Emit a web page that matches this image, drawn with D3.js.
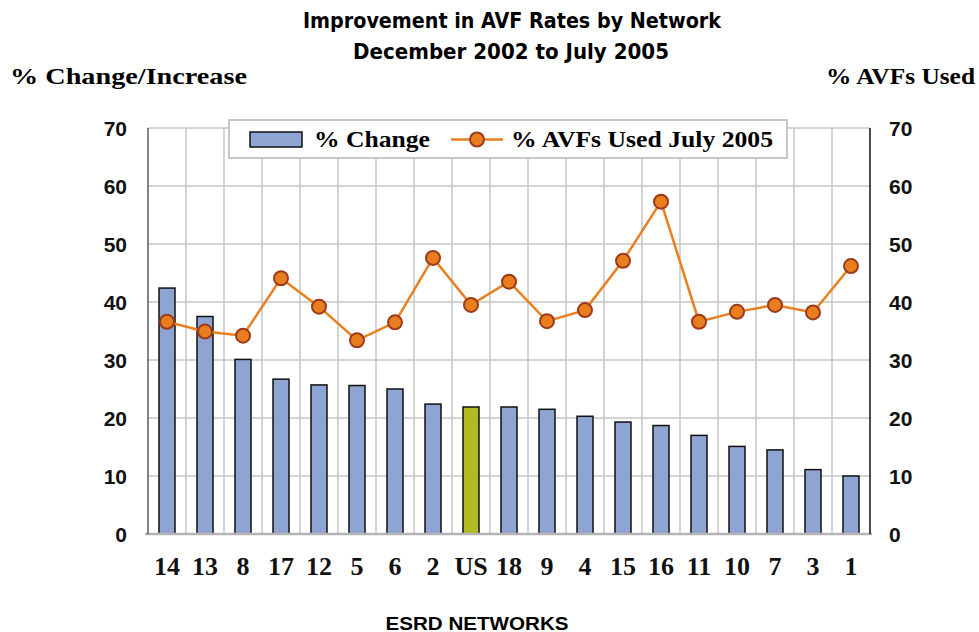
<!DOCTYPE html>
<html>
<head>
<meta charset="utf-8">
<script src="https://cdn.jsdelivr.net/npm/d3@7"></script>
<style>
  body { margin: 0; background: #fff; }
  svg { display: block; }
</style>
</head>
<body>
<svg id="chart"></svg>
<script>
// data
var networks = ['14', '13', '8', '17', '12', '5', '6', '2', 'US', '18', '9', '4', '15', '16', '11', '10', '7', '3', '1'];
var pctChange = [42.4, 37.5, 30.1, 26.7, 25.7, 25.6, 25.0, 22.4, 21.9, 21.9, 21.5, 20.3, 19.3, 18.7, 17.0, 15.1, 14.5, 11.1, 10.0];
var avfUsed = [36.6, 34.9, 34.2, 44.1, 39.2, 33.4, 36.5, 47.6, 39.5, 43.5, 36.7, 38.6, 47.1, 57.3, 36.6, 38.3, 39.5, 38.2, 46.2];
var yTicks = [0, 10, 20, 30, 40, 50, 60, 70];

var width = 979, height = 632;
var plotLeft = 148, plotRight = 870, plotTop = 128, plotBottom = 534;

var svg = d3.select('#chart')
  .attr('width', width)
  .attr('height', height);

var x = d3.scaleBand()
  .domain(networks)
  .range([plotLeft, plotRight]);

var yL = d3.scaleLinear().domain([0, 70]).range([plotBottom, plotTop]);
var yR = d3.scaleLinear().domain([0, 70]).range([plotBottom, plotTop]);

var sansCond = '"Liberation Sans Narrow", "DejaVu Sans Condensed", "Liberation Sans", Arial, sans-serif';
var serif = '"Liberation Serif", "DejaVu Serif", serif';
var sans = '"Liberation Sans", Arial, sans-serif';

// title
svg.append('text')
  .attr('x', 512).attr('y', 28)
  .attr('text-anchor', 'middle')
  .attr('font-family', sansCond)
  .attr('font-weight', 'bold')
  .attr('font-size', 21)
  .attr('textLength', 418).attr('lengthAdjust', 'spacingAndGlyphs')
  .text('Improvement in AVF Rates by Network');
svg.append('text')
  .attr('x', 511).attr('y', 59)
  .attr('text-anchor', 'middle')
  .attr('font-family', sansCond)
  .attr('font-weight', 'bold')
  .attr('font-size', 21)
  .attr('textLength', 316).attr('lengthAdjust', 'spacingAndGlyphs')
  .text('December 2002 to July 2005');

// axis titles
svg.append('text')
  .attr('x', 10).attr('y', 84)
  .attr('font-family', serif)
  .attr('font-weight', 'bold')
  .attr('font-size', 24)
  .attr('textLength', 237).attr('lengthAdjust', 'spacingAndGlyphs')
  .text('% Change/Increase');
svg.append('text')
  .attr('x', 826).attr('y', 84)
  .attr('font-family', serif)
  .attr('font-weight', 'bold')
  .attr('font-size', 24)
  .attr('textLength', 149).attr('lengthAdjust', 'spacingAndGlyphs')
  .text('% AVFs Used');

// gridlines
var grid = svg.append('g');
grid.selectAll('line.h')
  .data(yTicks.slice(1))
  .enter()
  .append('line')
  .attr('x1', plotLeft).attr('x2', plotRight)
  .attr('y1', function(d) { return yL(d); })
  .attr('y2', function(d) { return yL(d); })
  .attr('stroke', '#c6c6c6')
  .attr('stroke-width', 1.5);
grid.selectAll('line.v')
  .data(networks.slice(1))
  .enter()
  .append('line')
  .attr('x1', function(d) { return x(d); })
  .attr('x2', function(d) { return x(d); })
  .attr('y1', plotTop).attr('y2', plotBottom)
  .attr('stroke', '#c6c6c6')
  .attr('stroke-width', 1.5);

// bars
var barW = 16;
svg.selectAll('rect.bar')
  .data(pctChange)
  .enter()
  .append('rect')
  .attr('class', 'bar')
  .attr('x', function(d, i) { return x(networks[i]) + x.bandwidth() / 2 - barW / 2; })
  .attr('y', function(d) { return yL(d); })
  .attr('width', barW)
  .attr('height', function(d) { return plotBottom - yL(d); })
  .attr('fill', function(d, i) { return networks[i] === 'US' ? '#b2ba22' : '#8ea5d4'; })
  .attr('stroke', '#111')
  .attr('stroke-width', 1.5);

// axes lines
svg.append('line')
  .attr('x1', plotLeft - 3).attr('x2', plotRight + 2)
  .attr('y1', plotBottom).attr('y2', plotBottom)
  .attr('stroke', '#b4b4b4').attr('stroke-width', 2.5);
svg.append('line')
  .attr('x1', plotLeft).attr('x2', plotLeft)
  .attr('y1', plotTop).attr('y2', plotBottom)
  .attr('stroke', '#333').attr('stroke-width', 1.2);
svg.append('line')
  .attr('x1', plotRight).attr('x2', plotRight)
  .attr('y1', plotTop).attr('y2', plotBottom)
  .attr('stroke', '#111').attr('stroke-width', 1.5);

// tick labels
svg.selectAll('text.yl')
  .data(yTicks)
  .enter()
  .append('text')
  .attr('x', 127)
  .attr('y', function(d) { return yL(d) + 7.5; })
  .attr('text-anchor', 'end')
  .attr('font-family', sans)
  .attr('font-weight', 'bold')
  .attr('font-size', 21)
  .attr('fill', '#111')
  .text(function(d) { return d; });
svg.selectAll('text.yr')
  .data(yTicks)
  .enter()
  .append('text')
  .attr('x', 889)
  .attr('y', function(d) { return yR(d) + 7.5; })
  .attr('font-family', sans)
  .attr('font-weight', 'bold')
  .attr('font-size', 21)
  .attr('fill', '#111')
  .text(function(d) { return d; });

// line series
var line = d3.line()
  .x(function(d, i) { return x(networks[i]) + x.bandwidth() / 2; })
  .y(function(d) { return yR(d); });
svg.append('path')
  .datum(avfUsed)
  .attr('d', line)
  .attr('fill', 'none')
  .attr('stroke', '#e9801f')
  .attr('stroke-width', 2.5);
svg.selectAll('circle.pt')
  .data(avfUsed)
  .enter()
  .append('circle')
  .attr('cx', function(d, i) { return x(networks[i]) + x.bandwidth() / 2; })
  .attr('cy', function(d) { return yR(d); })
  .attr('r', 7)
  .attr('fill', '#e97e1e')
  .attr('stroke', '#9c3a1b')
  .attr('stroke-width', 2);

// x labels
svg.selectAll('text.xl')
  .data(networks)
  .enter()
  .append('text')
  .attr('x', function(d) { return x(d) + x.bandwidth() / 2; })
  .attr('y', 575)
  .attr('text-anchor', 'middle')
  .attr('font-family', serif)
  .attr('font-weight', 'bold')
  .attr('font-size', 26)
  .attr('fill', '#111')
  .text(function(d) { return d; });

svg.append('text')
  .attr('x', 477).attr('y', 630)
  .attr('text-anchor', 'middle')
  .attr('font-family', sans)
  .attr('font-weight', 'bold')
  .attr('font-size', 18)
  .attr('textLength', 183).attr('lengthAdjust', 'spacingAndGlyphs')
  .text('ESRD NETWORKS');

// legend
var lg = svg.append('g');
lg.append('rect')
  .attr('x', 229).attr('y', 120)
  .attr('width', 558).attr('height', 38)
  .attr('fill', '#fff')
  .attr('stroke', '#c8c8c8')
  .attr('stroke-width', 2);
lg.append('rect')
  .attr('x', 250).attr('y', 132)
  .attr('width', 52).attr('height', 15)
  .attr('fill', '#8ea5d4')
  .attr('stroke', '#111')
  .attr('stroke-width', 1.5);
lg.append('text')
  .attr('x', 314).attr('y', 147)
  .attr('font-family', serif)
  .attr('font-weight', 'bold')
  .attr('font-size', 24)
  .attr('textLength', 116).attr('lengthAdjust', 'spacingAndGlyphs')
  .text('% Change');
lg.append('line')
  .attr('x1', 451).attr('x2', 503)
  .attr('y1', 139.5).attr('y2', 139.5)
  .attr('stroke', '#e9801f')
  .attr('stroke-width', 2.5);
lg.append('circle')
  .attr('cx', 477).attr('cy', 139.5)
  .attr('r', 7)
  .attr('fill', '#e97e1e')
  .attr('stroke', '#9c3a1b')
  .attr('stroke-width', 2);
lg.append('text')
  .attr('x', 511).attr('y', 147)
  .attr('font-family', serif)
  .attr('font-weight', 'bold')
  .attr('font-size', 24)
  .attr('textLength', 262).attr('lengthAdjust', 'spacingAndGlyphs')
  .text('% AVFs Used July 2005');
</script>
</body>
</html>
